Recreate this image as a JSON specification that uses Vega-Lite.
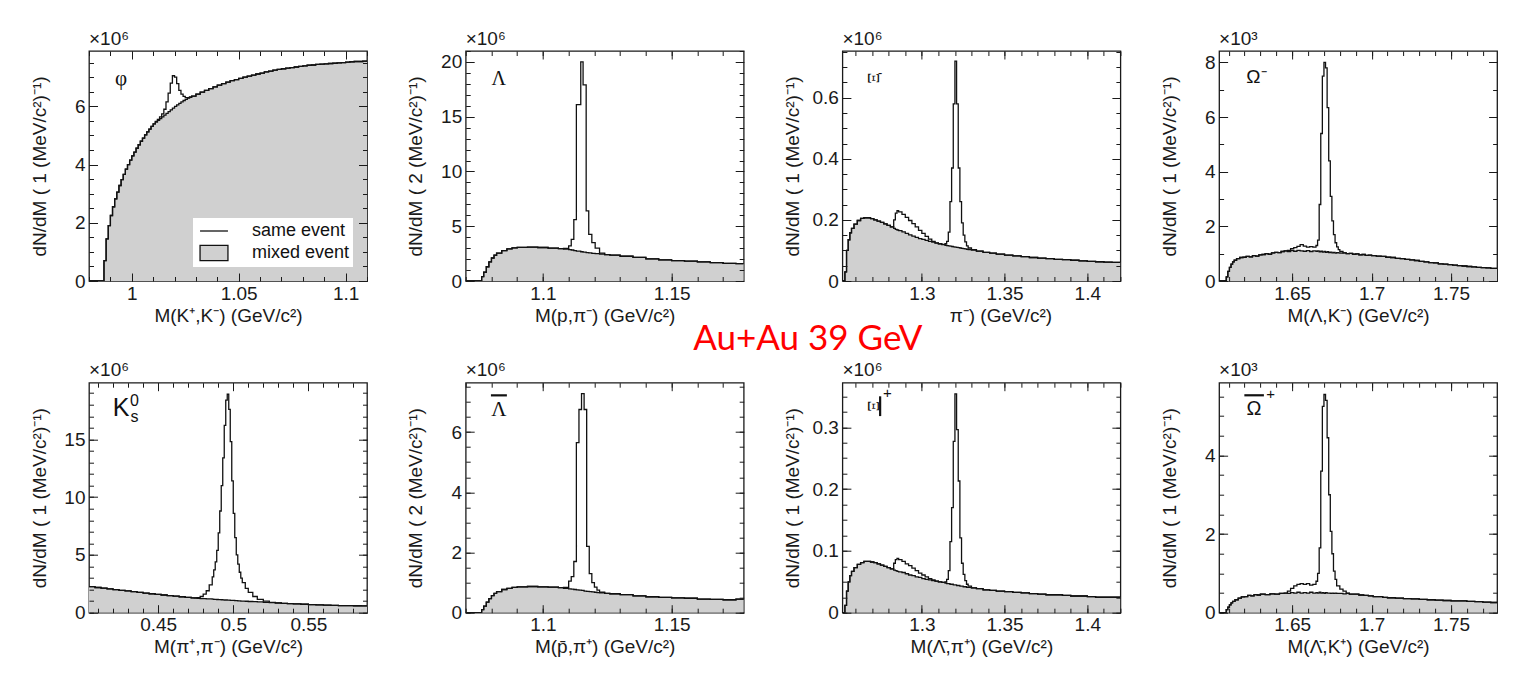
{
  "$schema": "https://vega.github.io/schema/vega-lite/v6.json",
  "background": "white",
  "padding": {"left": 29, "top": 28, "right": 20, "bottom": 20},
  "title": {"text": "Au+Au 39 GeV", "color": "#ff0000", "font": "Lato", "fontSize": 35, "fontWeight": "normal", "anchor": "middle", "frame": "bounds", "dx": 44, "offset": -328},
  "config": {
    "view": {"stroke": "#1a1a1a", "strokeWidth": 1.3},
    "font": "Liberation Sans",
    "axis": {"grid": false, "domain": false, "labelFont": "Liberation Sans", "labelFontSize": 19, "labelColor": "#1a1a1a", "labelPadding": 4, "titleFont": "Liberation Sans", "titleFontSize": 19, "titleFontWeight": "normal", "titleColor": "#1a1a1a", "tickColor": "#1a1a1a", "tickWidth": 1, "labelOverlap": false, "labelFlush": false},
    "axisLeft": {"titleX": -40},
    "axisBottom": {"labelPadding": 3, "titlePadding": 3},
    "title": {"anchor": "start", "frame": "group", "font": "Liberation Sans", "fontSize": 19, "fontWeight": "normal", "color": "#1a1a1a", "offset": 2}
  },
  "datasets": {
    "phi": [
      {"x":0.98,"m":0,"s":0},{"x":0.987,"m":0.7,"s":0.7},{"x":0.988,"m":1.45,"s":1.45},{"x":0.989,"m":1.9,"s":1.9},{"x":0.99,"m":2.25,"s":2.25},{"x":0.991,"m":2.55,"s":2.55},{"x":0.992,"m":2.82,"s":2.82},{"x":0.993,"m":3.05,"s":3.05},{"x":0.994,"m":3.28,"s":3.28},{"x":0.995,"m":3.48,"s":3.48},{"x":0.996,"m":3.66,"s":3.66},{"x":0.997,"m":3.84,"s":3.84},{"x":0.998,"m":4.0,"s":4.0},{"x":0.999,"m":4.15,"s":4.15},{"x":1.0,"m":4.3,"s":4.3},{"x":1.001,"m":4.43,"s":4.43},{"x":1.002,"m":4.56,"s":4.56},{"x":1.003,"m":4.68,"s":4.68},{"x":1.004,"m":4.8,"s":4.8},{"x":1.005,"m":4.91,"s":4.91},{"x":1.006,"m":5.02,"s":5.02},{"x":1.007,"m":5.12,"s":5.12},{"x":1.008,"m":5.22,"s":5.22},{"x":1.009,"m":5.31,"s":5.31},{"x":1.01,"m":5.4,"s":5.4},{"x":1.011,"m":5.46,"s":5.48},{"x":1.012,"m":5.52,"s":5.55},{"x":1.013,"m":5.58,"s":5.64},{"x":1.014,"m":5.64,"s":5.74},{"x":1.015,"m":5.7,"s":5.9},{"x":1.016,"m":5.76,"s":6.15},{"x":1.017,"m":5.82,"s":6.45},{"x":1.018,"m":5.88,"s":6.8},{"x":1.019,"m":5.94,"s":7.05},{"x":1.02,"m":6.0,"s":7.0},{"x":1.021,"m":6.05,"s":6.78},{"x":1.022,"m":6.1,"s":6.55},{"x":1.023,"m":6.15,"s":6.42},{"x":1.024,"m":6.2,"s":6.34},{"x":1.025,"m":6.24,"s":6.3},{"x":1.026,"m":6.28,"s":6.3},{"x":1.027,"m":6.31,"s":6.32},{"x":1.028,"m":6.35,"s":6.35},{"x":1.03,"m":6.42,"s":6.42},{"x":1.032,"m":6.49,"s":6.49},{"x":1.034,"m":6.55,"s":6.55},{"x":1.036,"m":6.61,"s":6.61},{"x":1.038,"m":6.67,"s":6.67},{"x":1.04,"m":6.73,"s":6.73},{"x":1.042,"m":6.78,"s":6.78},{"x":1.044,"m":6.83,"s":6.83},{"x":1.046,"m":6.88,"s":6.88},{"x":1.048,"m":6.92,"s":6.92},{"x":1.05,"m":6.96,"s":6.96},{"x":1.052,"m":7.0,"s":7.0},{"x":1.054,"m":7.04,"s":7.04},{"x":1.056,"m":7.07,"s":7.07},{"x":1.058,"m":7.11,"s":7.11},{"x":1.06,"m":7.14,"s":7.14},{"x":1.062,"m":7.18,"s":7.18},{"x":1.064,"m":7.21,"s":7.21},{"x":1.066,"m":7.24,"s":7.24},{"x":1.068,"m":7.27,"s":7.27},{"x":1.07,"m":7.29,"s":7.29},{"x":1.072,"m":7.31,"s":7.31},{"x":1.074,"m":7.33,"s":7.33},{"x":1.076,"m":7.35,"s":7.35},{"x":1.078,"m":7.37,"s":7.37},{"x":1.08,"m":7.39,"s":7.39},{"x":1.082,"m":7.41,"s":7.41},{"x":1.084,"m":7.42,"s":7.42},{"x":1.086,"m":7.44,"s":7.44},{"x":1.088,"m":7.45,"s":7.45},{"x":1.09,"m":7.46,"s":7.46},{"x":1.092,"m":7.47,"s":7.47},{"x":1.094,"m":7.48,"s":7.48},{"x":1.096,"m":7.49,"s":7.49},{"x":1.098,"m":7.5,"s":7.5},{"x":1.1,"m":7.52,"s":7.52},{"x":1.102,"m":7.53,"s":7.53},{"x":1.104,"m":7.54,"s":7.54},{"x":1.106,"m":7.54,"s":7.54},{"x":1.108,"m":7.55,"s":7.55},{"x":1.11,"m":7.55,"s":7.55}
    ],
    "lambda": [
      {"x":1.07,"m":0,"s":0},{"x":1.0762,"m":0.4,"s":0.4},{"x":1.077,"m":0.8,"s":0.8},{"x":1.078,"m":1.3,"s":1.3},{"x":1.079,"m":1.75,"s":1.75},{"x":1.08,"m":2.1,"s":2.1},{"x":1.081,"m":2.35,"s":2.35},{"x":1.082,"m":2.55,"s":2.55},{"x":1.084,"m":2.78,"s":2.78},{"x":1.086,"m":2.93,"s":2.93},{"x":1.088,"m":3.02,"s":3.02},{"x":1.09,"m":3.07,"s":3.07},{"x":1.094,"m":3.1,"s":3.1},{"x":1.098,"m":3.06,"s":3.06},{"x":1.102,"m":3.0,"s":3.0},{"x":1.106,"m":2.95,"s":2.95},{"x":1.108,"m":2.92,"s":2.97},{"x":1.11,"m":2.87,"s":3.2},{"x":1.111,"m":2.83,"s":3.8},{"x":1.112,"m":2.78,"s":5.6},{"x":1.113,"m":2.73,"s":16.1},{"x":1.1147,"m":2.67,"s":20.0},{"x":1.1156,"m":2.63,"s":17.9},{"x":1.1168,"m":2.59,"s":6.4},{"x":1.1178,"m":2.56,"s":4.25},{"x":1.119,"m":2.53,"s":3.5},{"x":1.1203,"m":2.5,"s":3.0},{"x":1.122,"m":2.45,"s":2.55},{"x":1.124,"m":2.41,"s":2.41},{"x":1.126,"m":2.36,"s":2.36},{"x":1.13,"m":2.26,"s":2.26},{"x":1.135,"m":2.15,"s":2.15},{"x":1.14,"m":2.02,"s":2.02},{"x":1.145,"m":1.92,"s":1.92},{"x":1.15,"m":1.86,"s":1.86},{"x":1.155,"m":1.81,"s":1.81},{"x":1.16,"m":1.74,"s":1.74},{"x":1.165,"m":1.67,"s":1.67},{"x":1.17,"m":1.61,"s":1.61},{"x":1.175,"m":1.58,"s":1.58},{"x":1.178,"m":1.58,"s":1.58}
    ],
    "xi": [
      {"x":1.252,"m":0,"s":0},{"x":1.2535,"m":0.03,"s":0.03},{"x":1.2545,"m":0.1,"s":0.1},{"x":1.2555,"m":0.135,"s":0.135},{"x":1.2565,"m":0.158,"s":0.158},{"x":1.2575,"m":0.172,"s":0.172},{"x":1.259,"m":0.186,"s":0.186},{"x":1.261,"m":0.198,"s":0.198},{"x":1.263,"m":0.205,"s":0.205},{"x":1.265,"m":0.207,"s":0.207},{"x":1.267,"m":0.207,"s":0.207},{"x":1.269,"m":0.204,"s":0.204},{"x":1.271,"m":0.2,"s":0.2},{"x":1.273,"m":0.196,"s":0.196},{"x":1.275,"m":0.192,"s":0.192},{"x":1.277,"m":0.187,"s":0.187},{"x":1.279,"m":0.182,"s":0.182},{"x":1.281,"m":0.177,"s":0.177},{"x":1.283,"m":0.172,"s":0.2},{"x":1.284,"m":0.169,"s":0.222},{"x":1.285,"m":0.167,"s":0.23},{"x":1.286,"m":0.165,"s":0.226},{"x":1.288,"m":0.161,"s":0.218},{"x":1.29,"m":0.156,"s":0.208},{"x":1.292,"m":0.151,"s":0.198},{"x":1.294,"m":0.147,"s":0.188},{"x":1.296,"m":0.143,"s":0.177},{"x":1.298,"m":0.139,"s":0.166},{"x":1.3,"m":0.136,"s":0.156},{"x":1.302,"m":0.133,"s":0.146},{"x":1.304,"m":0.13,"s":0.137},{"x":1.306,"m":0.127,"s":0.13},{"x":1.308,"m":0.124,"s":0.125},{"x":1.31,"m":0.122,"s":0.122},{"x":1.312,"m":0.119,"s":0.12},{"x":1.314,"m":0.117,"s":0.122},{"x":1.315,"m":0.116,"s":0.13},{"x":1.316,"m":0.115,"s":0.16},{"x":1.317,"m":0.114,"s":0.26},{"x":1.318,"m":0.113,"s":0.37},{"x":1.319,"m":0.112,"s":0.58},{"x":1.32,"m":0.111,"s":0.72},{"x":1.321,"m":0.11,"s":0.58},{"x":1.322,"m":0.109,"s":0.37},{"x":1.323,"m":0.108,"s":0.26},{"x":1.324,"m":0.107,"s":0.19},{"x":1.325,"m":0.106,"s":0.15},{"x":1.326,"m":0.105,"s":0.128},{"x":1.327,"m":0.104,"s":0.115},{"x":1.328,"m":0.103,"s":0.108},{"x":1.33,"m":0.101,"s":0.103},{"x":1.333,"m":0.098,"s":0.098},{"x":1.337,"m":0.094,"s":0.094},{"x":1.341,"m":0.091,"s":0.091},{"x":1.345,"m":0.088,"s":0.088},{"x":1.35,"m":0.085,"s":0.085},{"x":1.355,"m":0.082,"s":0.082},{"x":1.36,"m":0.08,"s":0.08},{"x":1.365,"m":0.077,"s":0.077},{"x":1.37,"m":0.075,"s":0.075},{"x":1.375,"m":0.073,"s":0.073},{"x":1.38,"m":0.071,"s":0.071},{"x":1.385,"m":0.07,"s":0.07},{"x":1.39,"m":0.068,"s":0.068},{"x":1.395,"m":0.066,"s":0.066},{"x":1.4,"m":0.064,"s":0.064},{"x":1.405,"m":0.063,"s":0.063},{"x":1.41,"m":0.062,"s":0.062},{"x":1.415,"m":0.061,"s":0.061},{"x":1.42,"m":0.061,"s":0.061}
    ],
    "omega": [
      {"x":1.604,"m":0,"s":0},{"x":1.6085,"m":0.15,"s":0.15},{"x":1.6095,"m":0.35,"s":0.35},{"x":1.6105,"m":0.5,"s":0.5},{"x":1.6115,"m":0.62,"s":0.62},{"x":1.6125,"m":0.7,"s":0.7},{"x":1.6135,"m":0.76,"s":0.76},{"x":1.615,"m":0.82,"s":0.82},{"x":1.617,"m":0.86,"s":0.86},{"x":1.619,"m":0.87,"s":0.87},{"x":1.621,"m":0.9,"s":0.9},{"x":1.623,"m":0.88,"s":0.88},{"x":1.625,"m":0.93,"s":0.93},{"x":1.627,"m":0.91,"s":0.91},{"x":1.629,"m":0.96,"s":0.96},{"x":1.631,"m":0.97,"s":0.97},{"x":1.633,"m":1.0,"s":1.0},{"x":1.635,"m":0.98,"s":0.98},{"x":1.637,"m":1.03,"s":1.03},{"x":1.639,"m":1.05,"s":1.05},{"x":1.641,"m":1.04,"s":1.04},{"x":1.643,"m":1.08,"s":1.08},{"x":1.645,"m":1.1,"s":1.1},{"x":1.647,"m":1.08,"s":1.12},{"x":1.649,"m":1.11,"s":1.18},{"x":1.651,"m":1.09,"s":1.22},{"x":1.653,"m":1.12,"s":1.27},{"x":1.655,"m":1.1,"s":1.33},{"x":1.657,"m":1.09,"s":1.28},{"x":1.659,"m":1.11,"s":1.24},{"x":1.661,"m":1.08,"s":1.26},{"x":1.663,"m":1.1,"s":1.24},{"x":1.665,"m":1.09,"s":1.3},{"x":1.666,"m":1.1,"s":1.5},{"x":1.667,"m":1.07,"s":2.8},{"x":1.668,"m":1.09,"s":5.4},{"x":1.669,"m":1.06,"s":7.5},{"x":1.67,"m":1.08,"s":8.0},{"x":1.671,"m":1.05,"s":7.8},{"x":1.672,"m":1.07,"s":6.35},{"x":1.673,"m":1.04,"s":4.4},{"x":1.674,"m":1.06,"s":3.1},{"x":1.675,"m":1.03,"s":2.2},{"x":1.676,"m":1.05,"s":1.7},{"x":1.677,"m":1.02,"s":1.4},{"x":1.678,"m":1.04,"s":1.25},{"x":1.679,"m":1.03,"s":1.15},{"x":1.68,"m":1.02,"s":1.08},{"x":1.682,"m":1.03,"s":1.03},{"x":1.684,"m":1.0,"s":1.0},{"x":1.686,"m":1.01,"s":1.01},{"x":1.688,"m":0.98,"s":0.98},{"x":1.69,"m":0.99,"s":0.99},{"x":1.692,"m":0.96,"s":0.96},{"x":1.694,"m":0.97,"s":0.97},{"x":1.696,"m":0.94,"s":0.94},{"x":1.698,"m":0.95,"s":0.95},{"x":1.7,"m":0.93,"s":0.93},{"x":1.703,"m":0.91,"s":0.91},{"x":1.706,"m":0.9,"s":0.9},{"x":1.709,"m":0.87,"s":0.87},{"x":1.712,"m":0.86,"s":0.86},{"x":1.715,"m":0.83,"s":0.83},{"x":1.718,"m":0.82,"s":0.82},{"x":1.721,"m":0.79,"s":0.79},{"x":1.724,"m":0.77,"s":0.77},{"x":1.727,"m":0.75,"s":0.75},{"x":1.73,"m":0.72,"s":0.72},{"x":1.733,"m":0.7,"s":0.7},{"x":1.736,"m":0.67,"s":0.67},{"x":1.739,"m":0.66,"s":0.66},{"x":1.742,"m":0.63,"s":0.63},{"x":1.745,"m":0.62,"s":0.62},{"x":1.748,"m":0.6,"s":0.6},{"x":1.751,"m":0.58,"s":0.58},{"x":1.754,"m":0.56,"s":0.56},{"x":1.757,"m":0.55,"s":0.55},{"x":1.76,"m":0.53,"s":0.53},{"x":1.763,"m":0.52,"s":0.52},{"x":1.766,"m":0.5,"s":0.5},{"x":1.769,"m":0.49,"s":0.49},{"x":1.772,"m":0.48,"s":0.48},{"x":1.775,"m":0.46,"s":0.46},{"x":1.779,"m":0.46,"s":0.46}
    ],
    "k0s": [
      {"x":0.404,"m":2.25,"s":2.25},{"x":0.408,"m":2.18,"s":2.18},{"x":0.412,"m":2.12,"s":2.12},{"x":0.416,"m":2.06,"s":2.06},{"x":0.42,"m":2.0,"s":2.0},{"x":0.424,"m":1.94,"s":1.94},{"x":0.428,"m":1.88,"s":1.88},{"x":0.432,"m":1.82,"s":1.82},{"x":0.436,"m":1.76,"s":1.76},{"x":0.44,"m":1.7,"s":1.7},{"x":0.444,"m":1.64,"s":1.64},{"x":0.448,"m":1.58,"s":1.58},{"x":0.452,"m":1.53,"s":1.53},{"x":0.456,"m":1.48,"s":1.48},{"x":0.46,"m":1.43,"s":1.43},{"x":0.464,"m":1.38,"s":1.38},{"x":0.468,"m":1.33,"s":1.33},{"x":0.472,"m":1.29,"s":1.29},{"x":0.474,"m":1.27,"s":1.28},{"x":0.476,"m":1.25,"s":1.3},{"x":0.478,"m":1.23,"s":1.42},{"x":0.48,"m":1.22,"s":1.6},{"x":0.482,"m":1.2,"s":1.9},{"x":0.484,"m":1.19,"s":2.4},{"x":0.486,"m":1.17,"s":3.1},{"x":0.487,"m":1.16,"s":3.7},{"x":0.488,"m":1.15,"s":4.4},{"x":0.489,"m":1.14,"s":5.4},{"x":0.49,"m":1.13,"s":6.9},{"x":0.491,"m":1.13,"s":8.8},{"x":0.492,"m":1.12,"s":11.0},{"x":0.493,"m":1.11,"s":13.4},{"x":0.494,"m":1.1,"s":16.2},{"x":0.495,"m":1.1,"s":18.4},{"x":0.496,"m":1.09,"s":18.9},{"x":0.497,"m":1.08,"s":17.6},{"x":0.498,"m":1.07,"s":14.8},{"x":0.499,"m":1.07,"s":11.4},{"x":0.5,"m":1.06,"s":8.6},{"x":0.501,"m":1.05,"s":6.5},{"x":0.502,"m":1.04,"s":5.0},{"x":0.503,"m":1.03,"s":4.2},{"x":0.504,"m":1.02,"s":3.5},{"x":0.505,"m":1.01,"s":3.0},{"x":0.506,"m":1.0,"s":2.6},{"x":0.508,"m":0.99,"s":2.1},{"x":0.51,"m":0.97,"s":1.75},{"x":0.513,"m":0.95,"s":1.4},{"x":0.516,"m":0.93,"s":1.15},{"x":0.52,"m":0.9,"s":1.0},{"x":0.524,"m":0.87,"s":0.9},{"x":0.528,"m":0.84,"s":0.85},{"x":0.532,"m":0.81,"s":0.81},{"x":0.536,"m":0.78,"s":0.78},{"x":0.54,"m":0.76,"s":0.76},{"x":0.545,"m":0.73,"s":0.73},{"x":0.55,"m":0.7,"s":0.7},{"x":0.555,"m":0.67,"s":0.67},{"x":0.56,"m":0.65,"s":0.65},{"x":0.565,"m":0.64,"s":0.64},{"x":0.57,"m":0.62,"s":0.62},{"x":0.575,"m":0.61,"s":0.61},{"x":0.58,"m":0.6,"s":0.6},{"x":0.585,"m":0.59,"s":0.59},{"x":0.589,"m":0.58,"s":0.58}
    ],
    "antilambda": [
      {"x":1.07,"m":0,"s":0},{"x":1.0762,"m":0.1,"s":0.1},{"x":1.077,"m":0.22,"s":0.22},{"x":1.078,"m":0.35,"s":0.35},{"x":1.079,"m":0.47,"s":0.47},{"x":1.08,"m":0.57,"s":0.57},{"x":1.081,"m":0.64,"s":0.64},{"x":1.082,"m":0.7,"s":0.7},{"x":1.084,"m":0.77,"s":0.77},{"x":1.086,"m":0.81,"s":0.81},{"x":1.088,"m":0.84,"s":0.84},{"x":1.09,"m":0.86,"s":0.86},{"x":1.094,"m":0.87,"s":0.87},{"x":1.098,"m":0.86,"s":0.86},{"x":1.102,"m":0.85,"s":0.85},{"x":1.106,"m":0.83,"s":0.83},{"x":1.108,"m":0.81,"s":0.84},{"x":1.11,"m":0.79,"s":1.05},{"x":1.111,"m":0.78,"s":1.2},{"x":1.112,"m":0.77,"s":1.7},{"x":1.113,"m":0.76,"s":5.65},{"x":1.114,"m":0.75,"s":6.75},{"x":1.115,"m":0.74,"s":7.28},{"x":1.116,"m":0.72,"s":6.75},{"x":1.117,"m":0.71,"s":2.2},{"x":1.118,"m":0.7,"s":1.3},{"x":1.119,"m":0.69,"s":1.0},{"x":1.12,"m":0.68,"s":0.85},{"x":1.121,"m":0.67,"s":0.75},{"x":1.122,"m":0.66,"s":0.68},{"x":1.124,"m":0.64,"s":0.64},{"x":1.126,"m":0.63,"s":0.63},{"x":1.13,"m":0.6,"s":0.6},{"x":1.135,"m":0.56,"s":0.56},{"x":1.14,"m":0.53,"s":0.53},{"x":1.145,"m":0.51,"s":0.51},{"x":1.15,"m":0.49,"s":0.49},{"x":1.155,"m":0.48,"s":0.48},{"x":1.16,"m":0.45,"s":0.45},{"x":1.165,"m":0.44,"s":0.44},{"x":1.17,"m":0.43,"s":0.43},{"x":1.175,"m":0.45,"s":0.45},{"x":1.178,"m":0.46,"s":0.46}
    ],
    "antixi": [
      {"x":1.252,"m":0,"s":0},{"x":1.2535,"m":0.012,"s":0.012},{"x":1.2545,"m":0.035,"s":0.035},{"x":1.2555,"m":0.05,"s":0.05},{"x":1.2565,"m":0.06,"s":0.06},{"x":1.2575,"m":0.067,"s":0.067},{"x":1.259,"m":0.073,"s":0.073},{"x":1.261,"m":0.078,"s":0.078},{"x":1.263,"m":0.081,"s":0.081},{"x":1.265,"m":0.083,"s":0.083},{"x":1.267,"m":0.083,"s":0.083},{"x":1.269,"m":0.082,"s":0.082},{"x":1.271,"m":0.081,"s":0.081},{"x":1.273,"m":0.079,"s":0.079},{"x":1.275,"m":0.077,"s":0.077},{"x":1.277,"m":0.075,"s":0.075},{"x":1.279,"m":0.073,"s":0.073},{"x":1.281,"m":0.071,"s":0.071},{"x":1.283,"m":0.069,"s":0.08},{"x":1.284,"m":0.068,"s":0.086},{"x":1.285,"m":0.067,"s":0.088},{"x":1.286,"m":0.066,"s":0.086},{"x":1.288,"m":0.065,"s":0.083},{"x":1.29,"m":0.063,"s":0.079},{"x":1.292,"m":0.061,"s":0.076},{"x":1.294,"m":0.06,"s":0.072},{"x":1.296,"m":0.058,"s":0.068},{"x":1.298,"m":0.057,"s":0.064},{"x":1.3,"m":0.055,"s":0.061},{"x":1.302,"m":0.054,"s":0.058},{"x":1.304,"m":0.053,"s":0.055},{"x":1.306,"m":0.052,"s":0.053},{"x":1.308,"m":0.051,"s":0.051},{"x":1.31,"m":0.05,"s":0.05},{"x":1.312,"m":0.049,"s":0.049},{"x":1.314,"m":0.048,"s":0.05},{"x":1.315,"m":0.047,"s":0.054},{"x":1.316,"m":0.047,"s":0.068},{"x":1.317,"m":0.046,"s":0.115},{"x":1.318,"m":0.046,"s":0.17},{"x":1.319,"m":0.045,"s":0.277},{"x":1.32,"m":0.045,"s":0.354},{"x":1.321,"m":0.044,"s":0.296},{"x":1.322,"m":0.044,"s":0.213},{"x":1.323,"m":0.043,"s":0.121},{"x":1.324,"m":0.043,"s":0.08},{"x":1.325,"m":0.042,"s":0.062},{"x":1.326,"m":0.042,"s":0.052},{"x":1.327,"m":0.041,"s":0.046},{"x":1.328,"m":0.041,"s":0.043},{"x":1.33,"m":0.04,"s":0.04},{"x":1.333,"m":0.039,"s":0.039},{"x":1.337,"m":0.037,"s":0.037},{"x":1.341,"m":0.036,"s":0.036},{"x":1.345,"m":0.035,"s":0.035},{"x":1.35,"m":0.034,"s":0.034},{"x":1.355,"m":0.033,"s":0.033},{"x":1.36,"m":0.032,"s":0.032},{"x":1.365,"m":0.031,"s":0.031},{"x":1.37,"m":0.03,"s":0.03},{"x":1.375,"m":0.029,"s":0.029},{"x":1.38,"m":0.029,"s":0.029},{"x":1.385,"m":0.028,"s":0.028},{"x":1.39,"m":0.027,"s":0.027},{"x":1.395,"m":0.027,"s":0.027},{"x":1.4,"m":0.026,"s":0.026},{"x":1.405,"m":0.025,"s":0.025},{"x":1.41,"m":0.025,"s":0.025},{"x":1.415,"m":0.025,"s":0.025},{"x":1.42,"m":0.025,"s":0.025}
    ],
    "antiomega": [
      {"x":1.604,"m":0,"s":0},{"x":1.6085,"m":0.08,"s":0.08},{"x":1.6095,"m":0.14,"s":0.14},{"x":1.6105,"m":0.2,"s":0.2},{"x":1.6115,"m":0.25,"s":0.25},{"x":1.6125,"m":0.29,"s":0.29},{"x":1.614,"m":0.33,"s":0.33},{"x":1.616,"m":0.37,"s":0.37},{"x":1.618,"m":0.4,"s":0.4},{"x":1.62,"m":0.41,"s":0.41},{"x":1.622,"m":0.44,"s":0.44},{"x":1.624,"m":0.43,"s":0.43},{"x":1.626,"m":0.46,"s":0.46},{"x":1.628,"m":0.45,"s":0.45},{"x":1.63,"m":0.47,"s":0.47},{"x":1.633,"m":0.46,"s":0.46},{"x":1.636,"m":0.48,"s":0.48},{"x":1.639,"m":0.47,"s":0.47},{"x":1.642,"m":0.49,"s":0.49},{"x":1.645,"m":0.5,"s":0.5},{"x":1.647,"m":0.49,"s":0.55},{"x":1.649,"m":0.51,"s":0.62},{"x":1.651,"m":0.5,"s":0.68},{"x":1.653,"m":0.52,"s":0.72},{"x":1.655,"m":0.5,"s":0.74},{"x":1.657,"m":0.51,"s":0.72},{"x":1.659,"m":0.5,"s":0.74},{"x":1.661,"m":0.52,"s":0.7},{"x":1.663,"m":0.5,"s":0.72},{"x":1.665,"m":0.51,"s":0.8},{"x":1.666,"m":0.5,"s":1.0},{"x":1.667,"m":0.52,"s":1.65},{"x":1.668,"m":0.5,"s":3.6},{"x":1.669,"m":0.51,"s":5.25},{"x":1.67,"m":0.49,"s":5.55},{"x":1.671,"m":0.51,"s":5.4},{"x":1.672,"m":0.5,"s":4.45},{"x":1.673,"m":0.5,"s":3.0},{"x":1.674,"m":0.49,"s":2.07},{"x":1.675,"m":0.5,"s":1.5},{"x":1.676,"m":0.49,"s":1.06},{"x":1.677,"m":0.5,"s":0.85},{"x":1.678,"m":0.49,"s":0.68},{"x":1.68,"m":0.49,"s":0.6},{"x":1.682,"m":0.48,"s":0.55},{"x":1.684,"m":0.49,"s":0.5},{"x":1.686,"m":0.47,"s":0.47},{"x":1.689,"m":0.47,"s":0.47},{"x":1.692,"m":0.45,"s":0.45},{"x":1.695,"m":0.44,"s":0.44},{"x":1.698,"m":0.43,"s":0.43},{"x":1.701,"m":0.41,"s":0.41},{"x":1.704,"m":0.41,"s":0.41},{"x":1.707,"m":0.39,"s":0.39},{"x":1.71,"m":0.38,"s":0.38},{"x":1.715,"m":0.37,"s":0.37},{"x":1.72,"m":0.36,"s":0.36},{"x":1.725,"m":0.35,"s":0.35},{"x":1.73,"m":0.34,"s":0.34},{"x":1.735,"m":0.33,"s":0.33},{"x":1.74,"m":0.32,"s":0.32},{"x":1.745,"m":0.31,"s":0.31},{"x":1.75,"m":0.3,"s":0.3},{"x":1.755,"m":0.3,"s":0.3},{"x":1.76,"m":0.29,"s":0.29},{"x":1.765,"m":0.28,"s":0.28},{"x":1.77,"m":0.27,"s":0.27},{"x":1.775,"m":0.26,"s":0.26},{"x":1.779,"m":0.25,"s":0.25}
    ]
  },
  "concat": [
    {
      "width": 278, "height": 230,
      "title": {"text": "×10⁶"},
      "data": {"name": "phi"},
      "layer": [
        {"mark": {"type": "area", "interpolate": "step-after", "color": "#d0d0d0", "clip": true},
         "encoding": {
           "x": {"field": "x", "type": "quantitative", "scale": {"domain": [0.98, 1.11], "nice": false, "zero": false}, "axis": {"orient": "bottom", "values": [1, 1.05, 1.1], "format": "~g", "ticks": false, "title": "M(K⁺,K⁻) (GeV/c²)"}},
           "y": {"field": "m", "type": "quantitative", "scale": {"domain": [0, 7.9], "nice": false}, "axis": {"orient": "left", "values": [0, 2, 4, 6], "format": "~g", "ticks": false, "title": "dN/dM ( 1 (MeV/c²)⁻¹)"}}}},
        {"mark": {"type": "line", "interpolate": "step-after", "strokeWidth": 1.3, "clip": true},
         "encoding": {
           "x": {"field": "x", "type": "quantitative", "axis": null},
           "y": {"field": "m", "type": "quantitative", "axis": null},
           "stroke": {"datum": "mixed event", "type": "nominal",
             "scale": {"domain": ["same event", "mixed event"], "range": ["#111111", "#111111"]},
             "legend": {"orient": "bottom-right", "offset": 14, "title": null, "fillColor": "white", "padding": 3, "labelFont": "Liberation Sans", "labelFontSize": 18, "labelColor": "#111111", "labelOffset": 28, "rowPadding": 2, "symbolSize": 324, "symbolOffset": 8, "symbolStrokeWidth": 1.3,
               "encode": {"symbols": {"update": {
                 "shape": {"signal": "datum.value === 'mixed event' ? 'M-1.55,-0.85H1.55V0.85H-1.55Z' : 'M-1.55,0H1.55'"},
                 "fill": {"signal": "datum.value === 'mixed event' ? '#d0d0d0' : 'transparent'"},
                 "stroke": {"value": "#111111"}}}}}}}},
        {"mark": {"type": "line", "interpolate": "step-after", "strokeWidth": 1.3, "clip": true},
         "encoding": {
           "x": {"field": "x", "type": "quantitative", "axis": null},
           "y": {"field": "s", "type": "quantitative", "axis": null},
           "stroke": {"datum": "same event", "type": "nominal"}}},
        {"data": {"values": [{}]}, "mark": {"type": "point", "opacity": 0},
         "encoding": {
           "x": {"datum": 1.0, "type": "quantitative", "axis": {"orient": "bottom", "values": [1, 1.05, 1.1], "labels": false, "title": null, "tickSize": -8, "zindex": 1}},
           "y": {"datum": 1, "type": "quantitative", "axis": {"orient": "left", "values": [0, 2, 4, 6], "labels": false, "title": null, "tickSize": -8.5, "zindex": 1}}}},
        {"data": {"values": [{}]}, "mark": {"type": "point", "opacity": 0},
         "encoding": {
           "x": {"datum": 1.0, "type": "quantitative", "axis": {"orient": "bottom", "values": [0.98, 0.99, 1, 1.01, 1.02, 1.03, 1.04, 1.05, 1.06, 1.07, 1.08, 1.09, 1.1, 1.11], "labels": false, "title": null, "tickSize": -4.5, "zindex": 1}},
           "y": {"datum": 1, "type": "quantitative", "axis": {"orient": "left", "values": [0, 0.5, 1, 1.5, 2, 2.5, 3, 3.5, 4, 4.5, 5, 5.5, 6, 6.5, 7, 7.5], "labels": false, "title": null, "tickSize": -4.5, "zindex": 1}}}},
        {"data": {"values": [{}]}, "mark": {"type": "point", "opacity": 0},
         "encoding": {
           "x": {"datum": 1.0, "type": "quantitative", "axis": {"orient": "top", "values": [1, 1.05, 1.1], "labels": false, "title": null, "tickSize": -8, "zindex": 1}},
           "y": {"datum": 1, "type": "quantitative", "axis": {"orient": "right", "values": [0, 2, 4, 6], "labels": false, "title": null, "tickSize": -8.5, "zindex": 1}}}},
        {"data": {"values": [{}]}, "mark": {"type": "point", "opacity": 0},
         "encoding": {
           "x": {"datum": 1.0, "type": "quantitative", "axis": {"orient": "top", "values": [0.98, 0.99, 1, 1.01, 1.02, 1.03, 1.04, 1.05, 1.06, 1.07, 1.08, 1.09, 1.1, 1.11], "labels": false, "title": null, "tickSize": -4.5, "zindex": 1}},
           "y": {"datum": 1, "type": "quantitative", "axis": {"orient": "right", "values": [0, 0.5, 1, 1.5, 2, 2.5, 3, 3.5, 4, 4.5, 5, 5.5, 6, 6.5, 7, 7.5], "labels": false, "title": null, "tickSize": -4.5, "zindex": 1}}}},
        {"data": {"values": [{}]}, "mark": {"type": "text", "text": "φ", "font": "Liberation Serif", "fontSize": 21, "color": "#111111"},
         "encoding": {"x": {"datum": 0.995, "type": "quantitative", "axis": null}, "y": {"datum": 6.94, "type": "quantitative", "axis": null}}}
      ],
      "resolve": {"axis": {"x": "independent", "y": "independent"}}
    },
    {
      "width": 278, "height": 230,
      "title": {"text": "×10⁶"},
      "data": {"name": "lambda"},
      "layer": [
        {"mark": {"type": "area", "interpolate": "step-after", "color": "#d0d0d0", "clip": true},
         "encoding": {
           "x": {"field": "x", "type": "quantitative", "scale": {"domain": [1.07, 1.178], "nice": false, "zero": false}, "axis": {"orient": "bottom", "values": [1.1, 1.15], "format": "~g", "ticks": false, "title": "M(p,π⁻) (GeV/c²)"}},
           "y": {"field": "m", "type": "quantitative", "scale": {"domain": [0, 21], "nice": false}, "axis": {"orient": "left", "values": [0, 5, 10, 15, 20], "format": "~g", "ticks": false, "title": "dN/dM ( 2 (MeV/c²)⁻¹)"}}}},
        {"mark": {"type": "line", "interpolate": "step-after", "strokeWidth": 1.3, "color": "#111111", "clip": true},
         "encoding": {"x": {"field": "x", "type": "quantitative", "axis": null}, "y": {"field": "m", "type": "quantitative", "axis": null}}},
        {"mark": {"type": "line", "interpolate": "step-after", "strokeWidth": 1.3, "color": "#111111", "clip": true},
         "encoding": {"x": {"field": "x", "type": "quantitative", "axis": null}, "y": {"field": "s", "type": "quantitative", "axis": null}}},
        {"data": {"values": [{}]}, "mark": {"type": "point", "opacity": 0},
         "encoding": {
           "x": {"datum": 1.1, "type": "quantitative", "axis": {"orient": "bottom", "values": [1.1, 1.15], "labels": false, "title": null, "tickSize": -8, "zindex": 1}},
           "y": {"datum": 1, "type": "quantitative", "axis": {"orient": "left", "values": [0, 5, 10, 15, 20], "labels": false, "title": null, "tickSize": -8.5, "zindex": 1}}}},
        {"data": {"values": [{}]}, "mark": {"type": "point", "opacity": 0},
         "encoding": {
           "x": {"datum": 1.1, "type": "quantitative", "axis": {"orient": "bottom", "values": [1.07, 1.08, 1.09, 1.1, 1.11, 1.12, 1.13, 1.14, 1.15, 1.16, 1.17], "labels": false, "title": null, "tickSize": -4.5, "zindex": 1}},
           "y": {"datum": 1, "type": "quantitative", "axis": {"orient": "left", "values": [0, 1, 2, 3, 4, 5, 6, 7, 8, 9, 10, 11, 12, 13, 14, 15, 16, 17, 18, 19, 20, 21], "labels": false, "title": null, "tickSize": -4.5, "zindex": 1}}}},
        {"data": {"values": [{}]}, "mark": {"type": "point", "opacity": 0},
         "encoding": {
           "x": {"datum": 1.1, "type": "quantitative", "axis": {"orient": "top", "values": [1.1, 1.15], "labels": false, "title": null, "tickSize": -8, "zindex": 1}},
           "y": {"datum": 1, "type": "quantitative", "axis": {"orient": "right", "values": [0, 5, 10, 15, 20], "labels": false, "title": null, "tickSize": -8.5, "zindex": 1}}}},
        {"data": {"values": [{}]}, "mark": {"type": "point", "opacity": 0},
         "encoding": {
           "x": {"datum": 1.1, "type": "quantitative", "axis": {"orient": "top", "values": [1.07, 1.08, 1.09, 1.1, 1.11, 1.12, 1.13, 1.14, 1.15, 1.16, 1.17], "labels": false, "title": null, "tickSize": -4.5, "zindex": 1}},
           "y": {"datum": 1, "type": "quantitative", "axis": {"orient": "right", "values": [0, 1, 2, 3, 4, 5, 6, 7, 8, 9, 10, 11, 12, 13, 14, 15, 16, 17, 18, 19, 20, 21], "labels": false, "title": null, "tickSize": -4.5, "zindex": 1}}}},
        {"data": {"values": [{}]}, "mark": {"type": "text", "text": "Λ", "font": "Liberation Serif", "fontSize": 20, "color": "#111111"},
         "encoding": {"x": {"datum": 1.0828, "type": "quantitative", "axis": null}, "y": {"datum": 18.45, "type": "quantitative", "axis": null}}}
      ],
      "resolve": {"axis": {"x": "independent", "y": "independent"}}
    },
    {
      "width": 278, "height": 230,
      "title": {"text": "×10⁶"},
      "data": {"name": "xi"},
      "layer": [
        {"mark": {"type": "area", "interpolate": "step-after", "color": "#d0d0d0", "clip": true},
         "encoding": {
           "x": {"field": "x", "type": "quantitative", "scale": {"domain": [1.252, 1.42], "nice": false, "zero": false}, "axis": {"orient": "bottom", "values": [1.3, 1.35, 1.4], "format": "~g", "ticks": false, "title": "π⁻) (GeV/c²)", "titleX": 158}},
           "y": {"field": "m", "type": "quantitative", "scale": {"domain": [0, 0.753], "nice": false}, "axis": {"orient": "left", "values": [0, 0.2, 0.4, 0.6], "format": "~g", "ticks": false, "title": "dN/dM ( 1 (MeV/c²)⁻¹)"}}}},
        {"mark": {"type": "line", "interpolate": "step-after", "strokeWidth": 1.3, "color": "#111111", "clip": true},
         "encoding": {"x": {"field": "x", "type": "quantitative", "axis": null}, "y": {"field": "m", "type": "quantitative", "axis": null}}},
        {"mark": {"type": "line", "interpolate": "step-after", "strokeWidth": 1.3, "color": "#111111", "clip": true},
         "encoding": {"x": {"field": "x", "type": "quantitative", "axis": null}, "y": {"field": "s", "type": "quantitative", "axis": null}}},
        {"data": {"values": [{}]}, "mark": {"type": "point", "opacity": 0},
         "encoding": {
           "x": {"datum": 1.3, "type": "quantitative", "axis": {"orient": "bottom", "values": [1.3, 1.35, 1.4], "labels": false, "title": null, "tickSize": -8, "zindex": 1}},
           "y": {"datum": 0.1, "type": "quantitative", "axis": {"orient": "left", "values": [0, 0.2, 0.4, 0.6], "labels": false, "title": null, "tickSize": -8.5, "zindex": 1}}}},
        {"data": {"values": [{}]}, "mark": {"type": "point", "opacity": 0},
         "encoding": {
           "x": {"datum": 1.3, "type": "quantitative", "axis": {"orient": "bottom", "values": [1.26, 1.27, 1.28, 1.29, 1.3, 1.31, 1.32, 1.33, 1.34, 1.35, 1.36, 1.37, 1.38, 1.39, 1.4, 1.41, 1.42], "labels": false, "title": null, "tickSize": -4.5, "zindex": 1}},
           "y": {"datum": 0.1, "type": "quantitative", "axis": {"orient": "left", "values": [0, 0.05, 0.1, 0.15, 0.2, 0.25, 0.3, 0.35, 0.4, 0.45, 0.5, 0.55, 0.6, 0.65, 0.7, 0.75], "labels": false, "title": null, "tickSize": -4.5, "zindex": 1}}}},
        {"data": {"values": [{}]}, "mark": {"type": "point", "opacity": 0},
         "encoding": {
           "x": {"datum": 1.3, "type": "quantitative", "axis": {"orient": "top", "values": [1.3, 1.35, 1.4], "labels": false, "title": null, "tickSize": -8, "zindex": 1}},
           "y": {"datum": 0.1, "type": "quantitative", "axis": {"orient": "right", "values": [0, 0.2, 0.4, 0.6], "labels": false, "title": null, "tickSize": -8.5, "zindex": 1}}}},
        {"data": {"values": [{}]}, "mark": {"type": "point", "opacity": 0},
         "encoding": {
           "x": {"datum": 1.3, "type": "quantitative", "axis": {"orient": "top", "values": [1.26, 1.27, 1.28, 1.29, 1.3, 1.31, 1.32, 1.33, 1.34, 1.35, 1.36, 1.37, 1.38, 1.39, 1.4, 1.41, 1.42], "labels": false, "title": null, "tickSize": -4.5, "zindex": 1}},
           "y": {"datum": 0.1, "type": "quantitative", "axis": {"orient": "right", "values": [0, 0.05, 0.1, 0.15, 0.2, 0.25, 0.3, 0.35, 0.4, 0.45, 0.5, 0.55, 0.6, 0.65, 0.7, 0.75], "labels": false, "title": null, "tickSize": -4.5, "zindex": 1}}}},
        {"data": {"values": [{}]}, "mark": {"type": "text", "text": "Ξ", "angle": 90, "font": "Liberation Serif", "fontSize": 17, "color": "#111111"},
         "encoding": {"x": {"datum": 1.2706, "type": "quantitative", "axis": null}, "y": {"datum": 0.6635, "type": "quantitative", "axis": null}}},
        {"data": {"values": [{}]}, "mark": {"type": "text", "text": "-", "font": "Liberation Sans", "fontSize": 13, "color": "#111111"},
         "encoding": {"x": {"datum": 1.2748, "type": "quantitative", "axis": null}, "y": {"datum": 0.682, "type": "quantitative", "axis": null}}}
      ],
      "resolve": {"axis": {"x": "independent", "y": "independent"}}
    },
    {
      "width": 278, "height": 230,
      "title": {"text": "×10³"},
      "data": {"name": "omega"},
      "layer": [
        {"mark": {"type": "area", "interpolate": "step-after", "color": "#d0d0d0", "clip": true},
         "encoding": {
           "x": {"field": "x", "type": "quantitative", "scale": {"domain": [1.604, 1.779], "nice": false, "zero": false}, "axis": {"orient": "bottom", "values": [1.65, 1.7, 1.75], "format": "~g", "ticks": false, "title": "M(Λ,K⁻) (GeV/c²)"}},
           "y": {"field": "m", "type": "quantitative", "scale": {"domain": [0, 8.42], "nice": false}, "axis": {"orient": "left", "values": [0, 2, 4, 6, 8], "format": "~g", "ticks": false, "title": "dN/dM ( 1 (MeV/c²)⁻¹)"}}}},
        {"mark": {"type": "line", "interpolate": "step-after", "strokeWidth": 1.3, "color": "#111111", "clip": true},
         "encoding": {"x": {"field": "x", "type": "quantitative", "axis": null}, "y": {"field": "m", "type": "quantitative", "axis": null}}},
        {"mark": {"type": "line", "interpolate": "step-after", "strokeWidth": 1.3, "color": "#111111", "clip": true},
         "encoding": {"x": {"field": "x", "type": "quantitative", "axis": null}, "y": {"field": "s", "type": "quantitative", "axis": null}}},
        {"data": {"values": [{}]}, "mark": {"type": "point", "opacity": 0},
         "encoding": {
           "x": {"datum": 1.7, "type": "quantitative", "axis": {"orient": "bottom", "values": [1.65, 1.7, 1.75], "labels": false, "title": null, "tickSize": -8, "zindex": 1}},
           "y": {"datum": 1, "type": "quantitative", "axis": {"orient": "left", "values": [0, 2, 4, 6, 8], "labels": false, "title": null, "tickSize": -8.5, "zindex": 1}}}},
        {"data": {"values": [{}]}, "mark": {"type": "point", "opacity": 0},
         "encoding": {
           "x": {"datum": 1.7, "type": "quantitative", "axis": {"orient": "bottom", "values": [1.61, 1.62, 1.63, 1.64, 1.65, 1.66, 1.67, 1.68, 1.69, 1.7, 1.71, 1.72, 1.73, 1.74, 1.75, 1.76, 1.77], "labels": false, "title": null, "tickSize": -4.5, "zindex": 1}},
           "y": {"datum": 1, "type": "quantitative", "axis": {"orient": "left", "values": [0, 1, 2, 3, 4, 5, 6, 7, 8], "labels": false, "title": null, "tickSize": -4.5, "zindex": 1}}}},
        {"data": {"values": [{}]}, "mark": {"type": "point", "opacity": 0},
         "encoding": {
           "x": {"datum": 1.7, "type": "quantitative", "axis": {"orient": "top", "values": [1.65, 1.7, 1.75], "labels": false, "title": null, "tickSize": -8, "zindex": 1}},
           "y": {"datum": 1, "type": "quantitative", "axis": {"orient": "right", "values": [0, 2, 4, 6, 8], "labels": false, "title": null, "tickSize": -8.5, "zindex": 1}}}},
        {"data": {"values": [{}]}, "mark": {"type": "point", "opacity": 0},
         "encoding": {
           "x": {"datum": 1.7, "type": "quantitative", "axis": {"orient": "top", "values": [1.61, 1.62, 1.63, 1.64, 1.65, 1.66, 1.67, 1.68, 1.69, 1.7, 1.71, 1.72, 1.73, 1.74, 1.75, 1.76, 1.77], "labels": false, "title": null, "tickSize": -4.5, "zindex": 1}},
           "y": {"datum": 1, "type": "quantitative", "axis": {"orient": "right", "values": [0, 1, 2, 3, 4, 5, 6, 7, 8], "labels": false, "title": null, "tickSize": -4.5, "zindex": 1}}}},
        {"data": {"values": [{}]}, "mark": {"type": "text", "text": "Ω⁻", "font": "Liberation Sans", "fontSize": 19, "color": "#111111"},
         "encoding": {"x": {"datum": 1.6275, "type": "quantitative", "axis": null}, "y": {"datum": 7.45, "type": "quantitative", "axis": null}}}
      ],
      "resolve": {"axis": {"x": "independent", "y": "independent"}}
    },
    {
      "width": 278, "height": 230,
      "title": {"text": "×10⁶"},
      "data": {"name": "k0s"},
      "layer": [
        {"mark": {"type": "area", "interpolate": "step-after", "color": "#d0d0d0", "clip": true},
         "encoding": {
           "x": {"field": "x", "type": "quantitative", "scale": {"domain": [0.404, 0.589], "nice": false, "zero": false}, "axis": {"orient": "bottom", "values": [0.45, 0.5, 0.55], "format": "~g", "ticks": false, "title": "M(π⁺,π⁻) (GeV/c²)"}},
           "y": {"field": "m", "type": "quantitative", "scale": {"domain": [0, 19.9], "nice": false}, "axis": {"orient": "left", "values": [0, 5, 10, 15], "format": "~g", "ticks": false, "title": "dN/dM ( 1 (MeV/c²)⁻¹)"}}}},
        {"mark": {"type": "line", "interpolate": "step-after", "strokeWidth": 1.3, "color": "#111111", "clip": true},
         "encoding": {"x": {"field": "x", "type": "quantitative", "axis": null}, "y": {"field": "m", "type": "quantitative", "axis": null}}},
        {"mark": {"type": "line", "interpolate": "step-after", "strokeWidth": 1.3, "color": "#111111", "clip": true},
         "encoding": {"x": {"field": "x", "type": "quantitative", "axis": null}, "y": {"field": "s", "type": "quantitative", "axis": null}}},
        {"data": {"values": [{}]}, "mark": {"type": "point", "opacity": 0},
         "encoding": {
           "x": {"datum": 0.5, "type": "quantitative", "axis": {"orient": "bottom", "values": [0.45, 0.5, 0.55], "labels": false, "title": null, "tickSize": -8, "zindex": 1}},
           "y": {"datum": 1, "type": "quantitative", "axis": {"orient": "left", "values": [0, 5, 10, 15], "labels": false, "title": null, "tickSize": -8.5, "zindex": 1}}}},
        {"data": {"values": [{}]}, "mark": {"type": "point", "opacity": 0},
         "encoding": {
           "x": {"datum": 0.5, "type": "quantitative", "axis": {"orient": "bottom", "values": [0.41, 0.42, 0.43, 0.44, 0.45, 0.46, 0.47, 0.48, 0.49, 0.5, 0.51, 0.52, 0.53, 0.54, 0.55, 0.56, 0.57, 0.58], "labels": false, "title": null, "tickSize": -4.5, "zindex": 1}},
           "y": {"datum": 1, "type": "quantitative", "axis": {"orient": "left", "values": [0, 1, 2, 3, 4, 5, 6, 7, 8, 9, 10, 11, 12, 13, 14, 15, 16, 17, 18, 19], "labels": false, "title": null, "tickSize": -4.5, "zindex": 1}}}},
        {"data": {"values": [{}]}, "mark": {"type": "point", "opacity": 0},
         "encoding": {
           "x": {"datum": 0.5, "type": "quantitative", "axis": {"orient": "top", "values": [0.45, 0.5, 0.55], "labels": false, "title": null, "tickSize": -8, "zindex": 1}},
           "y": {"datum": 1, "type": "quantitative", "axis": {"orient": "right", "values": [0, 5, 10, 15], "labels": false, "title": null, "tickSize": -8.5, "zindex": 1}}}},
        {"data": {"values": [{}]}, "mark": {"type": "point", "opacity": 0},
         "encoding": {
           "x": {"datum": 0.5, "type": "quantitative", "axis": {"orient": "top", "values": [0.41, 0.42, 0.43, 0.44, 0.45, 0.46, 0.47, 0.48, 0.49, 0.5, 0.51, 0.52, 0.53, 0.54, 0.55, 0.56, 0.57, 0.58], "labels": false, "title": null, "tickSize": -4.5, "zindex": 1}},
           "y": {"datum": 1, "type": "quantitative", "axis": {"orient": "right", "values": [0, 1, 2, 3, 4, 5, 6, 7, 8, 9, 10, 11, 12, 13, 14, 15, 16, 17, 18, 19], "labels": false, "title": null, "tickSize": -4.5, "zindex": 1}}}},
        {"data": {"values": [{}]}, "mark": {"type": "text", "text": "K", "font": "Liberation Sans", "fontSize": 25, "color": "#111111"},
         "encoding": {"x": {"datum": 0.4254, "type": "quantitative", "axis": null}, "y": {"datum": 17.73, "type": "quantitative", "axis": null}}},
        {"data": {"values": [{}]}, "mark": {"type": "text", "text": "0", "font": "Liberation Sans", "fontSize": 16, "color": "#111111"},
         "encoding": {"x": {"datum": 0.4343, "type": "quantitative", "axis": null}, "y": {"datum": 18.3, "type": "quantitative", "axis": null}}},
        {"data": {"values": [{}]}, "mark": {"type": "text", "text": "s", "font": "Liberation Sans", "fontSize": 16, "color": "#111111"},
         "encoding": {"x": {"datum": 0.4343, "type": "quantitative", "axis": null}, "y": {"datum": 16.9, "type": "quantitative", "axis": null}}}
      ],
      "resolve": {"axis": {"x": "independent", "y": "independent"}}
    },
    {
      "width": 278, "height": 230,
      "title": {"text": "×10⁶"},
      "data": {"name": "antilambda"},
      "layer": [
        {"mark": {"type": "area", "interpolate": "step-after", "color": "#d0d0d0", "clip": true},
         "encoding": {
           "x": {"field": "x", "type": "quantitative", "scale": {"domain": [1.07, 1.178], "nice": false, "zero": false}, "axis": {"orient": "bottom", "values": [1.1, 1.15], "format": "~g", "ticks": false, "title": "M(p̄,π⁺) (GeV/c²)"}},
           "y": {"field": "m", "type": "quantitative", "scale": {"domain": [0, 7.64], "nice": false}, "axis": {"orient": "left", "values": [0, 2, 4, 6], "format": "~g", "ticks": false, "title": "dN/dM ( 2 (MeV/c²)⁻¹)"}}}},
        {"mark": {"type": "line", "interpolate": "step-after", "strokeWidth": 1.3, "color": "#111111", "clip": true},
         "encoding": {"x": {"field": "x", "type": "quantitative", "axis": null}, "y": {"field": "m", "type": "quantitative", "axis": null}}},
        {"mark": {"type": "line", "interpolate": "step-after", "strokeWidth": 1.3, "color": "#111111", "clip": true},
         "encoding": {"x": {"field": "x", "type": "quantitative", "axis": null}, "y": {"field": "s", "type": "quantitative", "axis": null}}},
        {"data": {"values": [{}]}, "mark": {"type": "point", "opacity": 0},
         "encoding": {
           "x": {"datum": 1.1, "type": "quantitative", "axis": {"orient": "bottom", "values": [1.1, 1.15], "labels": false, "title": null, "tickSize": -8, "zindex": 1}},
           "y": {"datum": 1, "type": "quantitative", "axis": {"orient": "left", "values": [0, 2, 4, 6], "labels": false, "title": null, "tickSize": -8.5, "zindex": 1}}}},
        {"data": {"values": [{}]}, "mark": {"type": "point", "opacity": 0},
         "encoding": {
           "x": {"datum": 1.1, "type": "quantitative", "axis": {"orient": "bottom", "values": [1.07, 1.08, 1.09, 1.1, 1.11, 1.12, 1.13, 1.14, 1.15, 1.16, 1.17], "labels": false, "title": null, "tickSize": -4.5, "zindex": 1}},
           "y": {"datum": 1, "type": "quantitative", "axis": {"orient": "left", "values": [0, 0.5, 1, 1.5, 2, 2.5, 3, 3.5, 4, 4.5, 5, 5.5, 6, 6.5, 7, 7.5], "labels": false, "title": null, "tickSize": -4.5, "zindex": 1}}}},
        {"data": {"values": [{}]}, "mark": {"type": "point", "opacity": 0},
         "encoding": {
           "x": {"datum": 1.1, "type": "quantitative", "axis": {"orient": "top", "values": [1.1, 1.15], "labels": false, "title": null, "tickSize": -8, "zindex": 1}},
           "y": {"datum": 1, "type": "quantitative", "axis": {"orient": "right", "values": [0, 2, 4, 6], "labels": false, "title": null, "tickSize": -8.5, "zindex": 1}}}},
        {"data": {"values": [{}]}, "mark": {"type": "point", "opacity": 0},
         "encoding": {
           "x": {"datum": 1.1, "type": "quantitative", "axis": {"orient": "top", "values": [1.07, 1.08, 1.09, 1.1, 1.11, 1.12, 1.13, 1.14, 1.15, 1.16, 1.17], "labels": false, "title": null, "tickSize": -4.5, "zindex": 1}},
           "y": {"datum": 1, "type": "quantitative", "axis": {"orient": "right", "values": [0, 0.5, 1, 1.5, 2, 2.5, 3, 3.5, 4, 4.5, 5, 5.5, 6, 6.5, 7, 7.5], "labels": false, "title": null, "tickSize": -4.5, "zindex": 1}}}},
        {"data": {"values": [{}]}, "mark": {"type": "text", "text": "Λ", "font": "Liberation Serif", "fontSize": 21, "color": "#111111"},
         "encoding": {"x": {"datum": 1.0829, "type": "quantitative", "axis": null}, "y": {"datum": 6.72, "type": "quantitative", "axis": null}}},
        {"data": {"values": [{}]}, "mark": {"type": "rule", "strokeWidth": 2.2, "color": "#111111"},
         "encoding": {"x": {"datum": 1.0798, "type": "quantitative", "axis": null}, "x2": {"datum": 1.086}, "y": {"datum": 7.22, "type": "quantitative", "axis": null}}}
      ],
      "resolve": {"axis": {"x": "independent", "y": "independent"}}
    },
    {
      "width": 278, "height": 230,
      "title": {"text": "×10⁶"},
      "data": {"name": "antixi"},
      "layer": [
        {"mark": {"type": "area", "interpolate": "step-after", "color": "#d0d0d0", "clip": true},
         "encoding": {
           "x": {"field": "x", "type": "quantitative", "scale": {"domain": [1.252, 1.42], "nice": false, "zero": false}, "axis": {"orient": "bottom", "values": [1.3, 1.35, 1.4], "format": "~g", "ticks": false, "title": "M(Λ̄,π⁺) (GeV/c²)"}},
           "y": {"field": "m", "type": "quantitative", "scale": {"domain": [0, 0.372], "nice": false}, "axis": {"orient": "left", "values": [0, 0.1, 0.2, 0.3], "format": "~g", "ticks": false, "title": "dN/dM ( 1 (MeV/c²)⁻¹)"}}}},
        {"mark": {"type": "line", "interpolate": "step-after", "strokeWidth": 1.3, "color": "#111111", "clip": true},
         "encoding": {"x": {"field": "x", "type": "quantitative", "axis": null}, "y": {"field": "m", "type": "quantitative", "axis": null}}},
        {"mark": {"type": "line", "interpolate": "step-after", "strokeWidth": 1.3, "color": "#111111", "clip": true},
         "encoding": {"x": {"field": "x", "type": "quantitative", "axis": null}, "y": {"field": "s", "type": "quantitative", "axis": null}}},
        {"data": {"values": [{}]}, "mark": {"type": "point", "opacity": 0},
         "encoding": {
           "x": {"datum": 1.3, "type": "quantitative", "axis": {"orient": "bottom", "values": [1.3, 1.35, 1.4], "labels": false, "title": null, "tickSize": -8, "zindex": 1}},
           "y": {"datum": 0.1, "type": "quantitative", "axis": {"orient": "left", "values": [0, 0.1, 0.2, 0.3], "labels": false, "title": null, "tickSize": -8.5, "zindex": 1}}}},
        {"data": {"values": [{}]}, "mark": {"type": "point", "opacity": 0},
         "encoding": {
           "x": {"datum": 1.3, "type": "quantitative", "axis": {"orient": "bottom", "values": [1.26, 1.27, 1.28, 1.29, 1.3, 1.31, 1.32, 1.33, 1.34, 1.35, 1.36, 1.37, 1.38, 1.39, 1.4, 1.41, 1.42], "labels": false, "title": null, "tickSize": -4.5, "zindex": 1}},
           "y": {"datum": 0.1, "type": "quantitative", "axis": {"orient": "left", "values": [0, 0.025, 0.05, 0.075, 0.1, 0.125, 0.15, 0.175, 0.2, 0.225, 0.25, 0.275, 0.3, 0.325, 0.35], "labels": false, "title": null, "tickSize": -4.5, "zindex": 1}}}},
        {"data": {"values": [{}]}, "mark": {"type": "point", "opacity": 0},
         "encoding": {
           "x": {"datum": 1.3, "type": "quantitative", "axis": {"orient": "top", "values": [1.3, 1.35, 1.4], "labels": false, "title": null, "tickSize": -8, "zindex": 1}},
           "y": {"datum": 0.1, "type": "quantitative", "axis": {"orient": "right", "values": [0, 0.1, 0.2, 0.3], "labels": false, "title": null, "tickSize": -8.5, "zindex": 1}}}},
        {"data": {"values": [{}]}, "mark": {"type": "point", "opacity": 0},
         "encoding": {
           "x": {"datum": 1.3, "type": "quantitative", "axis": {"orient": "top", "values": [1.26, 1.27, 1.28, 1.29, 1.3, 1.31, 1.32, 1.33, 1.34, 1.35, 1.36, 1.37, 1.38, 1.39, 1.4, 1.41, 1.42], "labels": false, "title": null, "tickSize": -4.5, "zindex": 1}},
           "y": {"datum": 0.1, "type": "quantitative", "axis": {"orient": "right", "values": [0, 0.025, 0.05, 0.075, 0.1, 0.125, 0.15, 0.175, 0.2, 0.225, 0.25, 0.275, 0.3, 0.325, 0.35], "labels": false, "title": null, "tickSize": -4.5, "zindex": 1}}}},
        {"data": {"values": [{}]}, "mark": {"type": "text", "text": "Ξ", "angle": 90, "font": "Liberation Serif", "fontSize": 17, "color": "#111111"},
         "encoding": {"x": {"datum": 1.2702, "type": "quantitative", "axis": null}, "y": {"datum": 0.334, "type": "quantitative", "axis": null}}},
        {"data": {"values": [{}]}, "mark": {"type": "rule", "strokeWidth": 2.2, "color": "#111111"},
         "encoding": {"x": {"datum": 1.2748, "type": "quantitative", "axis": null}, "y": {"datum": 0.318, "type": "quantitative", "axis": null}, "y2": {"datum": 0.35}}},
        {"data": {"values": [{}]}, "mark": {"type": "text", "text": "+", "font": "Liberation Sans", "fontSize": 15, "color": "#111111"},
         "encoding": {"x": {"datum": 1.2792, "type": "quantitative", "axis": null}, "y": {"datum": 0.355, "type": "quantitative", "axis": null}}}
      ],
      "resolve": {"axis": {"x": "independent", "y": "independent"}}
    },
    {
      "width": 278, "height": 230,
      "title": {"text": "×10³"},
      "data": {"name": "antiomega"},
      "layer": [
        {"mark": {"type": "area", "interpolate": "step-after", "color": "#d0d0d0", "clip": true},
         "encoding": {
           "x": {"field": "x", "type": "quantitative", "scale": {"domain": [1.604, 1.779], "nice": false, "zero": false}, "axis": {"orient": "bottom", "values": [1.65, 1.7, 1.75], "format": "~g", "ticks": false, "title": "M(Λ̄,K⁺) (GeV/c²)"}},
           "y": {"field": "m", "type": "quantitative", "scale": {"domain": [0, 5.85], "nice": false}, "axis": {"orient": "left", "values": [0, 2, 4], "format": "~g", "ticks": false, "title": "dN/dM ( 1 (MeV/c²)⁻¹)"}}}},
        {"mark": {"type": "line", "interpolate": "step-after", "strokeWidth": 1.3, "color": "#111111", "clip": true},
         "encoding": {"x": {"field": "x", "type": "quantitative", "axis": null}, "y": {"field": "m", "type": "quantitative", "axis": null}}},
        {"mark": {"type": "line", "interpolate": "step-after", "strokeWidth": 1.3, "color": "#111111", "clip": true},
         "encoding": {"x": {"field": "x", "type": "quantitative", "axis": null}, "y": {"field": "s", "type": "quantitative", "axis": null}}},
        {"data": {"values": [{}]}, "mark": {"type": "point", "opacity": 0},
         "encoding": {
           "x": {"datum": 1.7, "type": "quantitative", "axis": {"orient": "bottom", "values": [1.65, 1.7, 1.75], "labels": false, "title": null, "tickSize": -8, "zindex": 1}},
           "y": {"datum": 1, "type": "quantitative", "axis": {"orient": "left", "values": [0, 2, 4], "labels": false, "title": null, "tickSize": -8.5, "zindex": 1}}}},
        {"data": {"values": [{}]}, "mark": {"type": "point", "opacity": 0},
         "encoding": {
           "x": {"datum": 1.7, "type": "quantitative", "axis": {"orient": "bottom", "values": [1.61, 1.62, 1.63, 1.64, 1.65, 1.66, 1.67, 1.68, 1.69, 1.7, 1.71, 1.72, 1.73, 1.74, 1.75, 1.76, 1.77], "labels": false, "title": null, "tickSize": -4.5, "zindex": 1}},
           "y": {"datum": 1, "type": "quantitative", "axis": {"orient": "left", "values": [0, 0.5, 1, 1.5, 2, 2.5, 3, 3.5, 4, 4.5, 5, 5.5], "labels": false, "title": null, "tickSize": -4.5, "zindex": 1}}}},
        {"data": {"values": [{}]}, "mark": {"type": "point", "opacity": 0},
         "encoding": {
           "x": {"datum": 1.7, "type": "quantitative", "axis": {"orient": "top", "values": [1.65, 1.7, 1.75], "labels": false, "title": null, "tickSize": -8, "zindex": 1}},
           "y": {"datum": 1, "type": "quantitative", "axis": {"orient": "right", "values": [0, 2, 4], "labels": false, "title": null, "tickSize": -8.5, "zindex": 1}}}},
        {"data": {"values": [{}]}, "mark": {"type": "point", "opacity": 0},
         "encoding": {
           "x": {"datum": 1.7, "type": "quantitative", "axis": {"orient": "top", "values": [1.61, 1.62, 1.63, 1.64, 1.65, 1.66, 1.67, 1.68, 1.69, 1.7, 1.71, 1.72, 1.73, 1.74, 1.75, 1.76, 1.77], "labels": false, "title": null, "tickSize": -4.5, "zindex": 1}},
           "y": {"datum": 1, "type": "quantitative", "axis": {"orient": "right", "values": [0, 0.5, 1, 1.5, 2, 2.5, 3, 3.5, 4, 4.5, 5, 5.5], "labels": false, "title": null, "tickSize": -4.5, "zindex": 1}}}},
        {"data": {"values": [{}]}, "mark": {"type": "text", "text": "Ω", "font": "Liberation Sans", "fontSize": 20, "color": "#111111"},
         "encoding": {"x": {"datum": 1.626, "type": "quantitative", "axis": null}, "y": {"datum": 5.17, "type": "quantitative", "axis": null}}},
        {"data": {"values": [{}]}, "mark": {"type": "rule", "strokeWidth": 2.2, "color": "#111111"},
         "encoding": {"x": {"datum": 1.6199, "type": "quantitative", "axis": null}, "x2": {"datum": 1.6322}, "y": {"datum": 5.53, "type": "quantitative", "axis": null}}},
        {"data": {"values": [{}]}, "mark": {"type": "text", "text": "+", "font": "Liberation Sans", "fontSize": 15, "color": "#111111"},
         "encoding": {"x": {"datum": 1.6365, "type": "quantitative", "axis": null}, "y": {"datum": 5.56, "type": "quantitative", "axis": null}}}
      ],
      "resolve": {"axis": {"x": "independent", "y": "independent"}}
    }
  ],
  "columns": 4,
  "spacing": {"row": 101.7, "column": 98.7},
  "bounds": "flush",
  "resolve": {"scale": {"stroke": "independent"}, "legend": {"stroke": "independent"}}
}
